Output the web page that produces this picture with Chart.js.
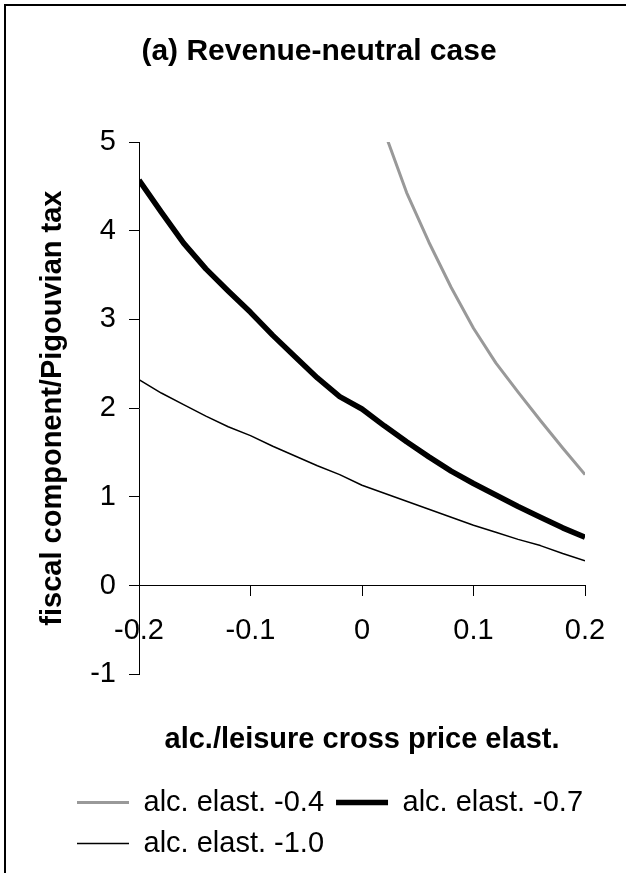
<!DOCTYPE html>
<html>
<head>
<meta charset="utf-8">
<title>Revenue-neutral case</title>
<script src="https://cdn.jsdelivr.net/npm/chart.js@4/dist/chart.umd.min.js"></script>
<style>
    html, body { margin: 0; padding: 0; background: #fff; overflow: hidden; }
    #wrap { position: relative; width: 626px; height: 873px; }
    #frame { position: absolute; left: 4px; top: 4px; width: 700px; height: 1000px;
             border-left: 2px solid #000; border-top: 2px solid #000; pointer-events: none; }
</style>
</head>
<body>
<div id="wrap">
    <canvas id="line" width="626" height="873"></canvas>
    <div id="frame"></div>
</div>
<script>
// alc./leisure cross price elasticity (x axis)
var xValues = [-0.2, -0.18, -0.16, -0.14, -0.12, -0.1, -0.08, -0.06, -0.04, -0.02, 0,
    0.02, 0.04, 0.06, 0.08, 0.1, 0.12, 0.14, 0.16, 0.18, 0.2];

// fiscal component / Pigouvian tax, one list per alcohol elasticity
var elast04 = [null, null, null, null, null, null, null, null, null, null, null,
    5.12, 4.43, 3.87, 3.36, 2.90, 2.51, 2.18, 1.86, 1.55, 1.25];
var elast07 = [4.57, 4.21, 3.86, 3.57, 3.32, 3.08, 2.82, 2.58, 2.34, 2.13, 1.99,
    1.80, 1.62, 1.45, 1.29, 1.15, 1.02, 0.89, 0.77, 0.65, 0.545];
var elast10 = [2.32, 2.17, 2.04, 1.91, 1.79, 1.69, 1.57, 1.46, 1.35, 1.25, 1.13,
    1.04, 0.95, 0.86, 0.77, 0.68, 0.60, 0.52, 0.45, 0.36, 0.28];

var seriesLabels = ['alc. elast. -0.4', 'alc. elast. -0.7', 'alc. elast. -1.0'];
var yTicks = [-1, 0, 1, 2, 3, 4, 5];
var xTicks = [-0.2, -0.1, 0, 0.1, 0.2];

var font = "'Liberation Sans', Arial, sans-serif";

function toPoints(values) {
    return xValues.map(function(x, i) {
        return { x: x, y: values[i] };
    });
}

// the original centres the title a bit right and starts the legend under the y title
var blockShift = {
    id: 'blockShift',
    afterLayout: function(chart) {
        chart.legend.left = 65;
        chart.legend.right = 626;
        chart.titleBlock.left = 12;
        chart.titleBlock.right = 626;
    }
};

Chart.defaults.color = '#000';
Chart.defaults.font.family = font;

var ctx = document.getElementById('line').getContext('2d');

var myChart = new Chart(ctx, {
    type: 'line',
    data: {
        datasets: [{
            label: seriesLabels[0],
            data: toPoints(elast04),
            borderColor: '#999999',
            backgroundColor: '#999999',
            borderWidth: 3,
            clip: 0
        }, {
            label: seriesLabels[1],
            data: toPoints(elast07),
            borderColor: '#000000',
            backgroundColor: '#000000',
            borderWidth: 5.5
        }, {
            label: seriesLabels[2],
            data: toPoints(elast10),
            borderColor: '#000000',
            backgroundColor: '#000000',
            borderWidth: 1.5
        }]
    },
    options: {
        responsive: false,
        animation: false,
        devicePixelRatio: 1,
        elements: {
            point: { radius: 0, hoverRadius: 0 },
            line: { tension: 0, borderJoinStyle: 'round' }
        },
        layout: {
            padding: { left: 0, right: 41, top: 0, bottom: 5 }
        },
        scales: {
            x: {
                type: 'linear',
                position: { y: 0 },
                min: xTicks[0],
                max: xTicks[xTicks.length - 1],
                afterBuildTicks: function(scale) {
                    scale.ticks = xTicks.map(function(v) { return { value: v }; });
                },
                afterFit: function(scale) {
                    scale.height = 0;
                },
                ticks: {
                    autoSkip: false,
                    maxRotation: 0,
                    padding: 18,
                    font: { size: 29 }
                },
                grid: { drawOnChartArea: false, tickLength: 10, color: '#000' },
                border: { color: '#000', width: 1 }
            },
            y: {
                position: 'left',
                min: yTicks[0],
                max: yTicks[yTicks.length - 1],
                afterBuildTicks: function(scale) {
                    scale.ticks = yTicks.map(function(v) { return { value: v }; });
                },
                afterFit: function(scale) {
                    scale.width = 139;
                },
                ticks: {
                    padding: 13,
                    font: { size: 29 }
                },
                grid: { drawOnChartArea: false, tickLength: 10, color: '#000' },
                border: { color: '#000', width: 1 },
                title: {
                    display: true,
                    text: 'fiscal component/Pigouvian tax',
                    font: { size: 29, weight: 'bold' },
                    padding: { top: 36, bottom: 0 }
                }
            }
        },
        plugins: {
            title: {
                display: true,
                text: '(a) Revenue-neutral case',
                font: { size: 30, weight: 'bold' },
                padding: { top: 34, bottom: 72 }
            },
            subtitle: {
                display: true,
                position: 'bottom',
                fullSize: false,
                weight: 500,
                text: 'alc./leisure cross price elast.',
                font: { size: 29, weight: 'bold' },
                padding: { top: 48, bottom: 19 }
            },
            legend: {
                position: 'bottom',
                align: 'start',
                labels: {
                    usePointStyle: true,
                    pointStyle: 'line',
                    pointStyleWidth: 52,
                    padding: 12,
                    font: { size: 29 }
                }
            },
            tooltip: { enabled: false }
        }
    },
    plugins: [blockShift]
});
</script>
</body>
</html>
